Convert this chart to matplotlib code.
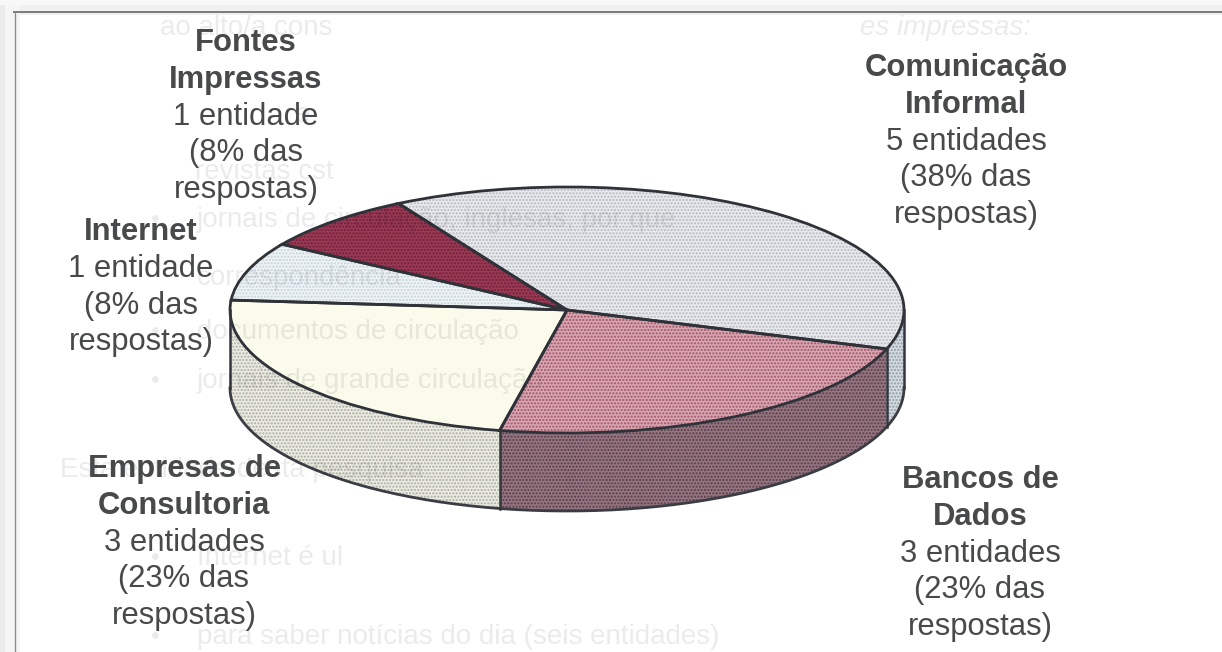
import numpy as np
import matplotlib
matplotlib.use("Agg")
import matplotlib.pyplot as plt

plt.rcParams['font.family'] = ['Liberation Sans', 'DejaVu Sans']

# entidades, in clockwise order from the top
categories = ['Comunicação Informal', 'Bancos de Dados', 'Empresas de Consultoria', 'Internet', 'Fontes Impressas']
values = [5, 3, 3, 1, 1]

top_colors = ['#e8e9ec', '#d8a5b0', '#fbfbec', '#eef3f5', '#9a3a55']
top_dots = ['#b4b8c0', '#9c5468', '#fbfbec', '#c6d2da', '#6f2039']
side_colors = ['#d5dce0', '#967680', '#ecece2', '#ffffff', '#ffffff']
side_dots = ['#808c98', '#4f3642', '#a0a39a', '#ffffff', '#ffffff']

label_lines = [
    ['Fontes', 'Impressas', '1 entidade', '(8% das', 'respostas)'],
    ['Comunicação', 'Informal', '5 entidades', '(38% das', 'respostas)'],
    ['Internet', '1 entidade', '(8% das', 'respostas)'],
    ['Empresas de', 'Consultoria', '3 entidades', '(23% das', 'respostas)'],
    ['Bancos de', 'Dados', '3 entidades', '(23% das', 'respostas)'],
]
label_bold = [2, 2, 1, 2, 2]
label_x = [246, 966, 141, 184, 980]
label_y = [43, 68, 232, 469, 480]

# show-through from the other side of the scanned page
ghost_text = ['ao alto/a cons', 'es impressas:', 'e', 'revistas cst', 'jornais de circulação, inglesas, por que',
              'correspondência', 'documentos de circulação', 'jornais de grande circulação',
              'Esta entidade desta pesquisa', 'Internet é ul', 'para saber notícias do dia (seis entidades)']
ghost_x = [160, 860, 295, 195, 197, 197, 197, 197, 60, 197, 197]
ghost_y = [28, 28, 115, 172, 220, 278, 332, 381, 470, 558, 637]
ghost_bullet_y = [220, 332, 381, 558, 637]

W, H = 1222, 652
cx, cy, rx, ry, depth = 567, 310, 337, 123, 78

fig = plt.figure(figsize=(W / 100, H / 100), dpi=100)
ax = fig.add_axes([0, 0, 1, 1])
start = 120
dots = '.....'

# side wall, built up from pies stacked under the top one
for d in np.arange(depth, 0, -1) / ry:
    ax.pie(values, colors=side_colors, startangle=start, counterclock=False, center=(0, -d),
           wedgeprops={'linewidth': 0})
    for w, c in zip(ax.patches[-5:], side_dots):
        w.set_edgecolor(c)
        w.set_hatch(dots)

ax.pie(values, colors=top_colors, startangle=start, counterclock=False, wedgeprops={'linewidth': 0})
for w, c in zip(ax.patches[-5:], top_dots):
    w.set_edgecolor(c)
    w.set_hatch(dots)
ax.pie(values, colors=['none'] * 5, startangle=start, counterclock=False,
       wedgeprops={'linewidth': 2, 'edgecolor': '#2f3238'})

# rim and wall edges
t = np.radians(np.linspace(180, 360, 200))
ax.plot(np.cos(t), np.sin(t) - depth / ry, color='#3a3d44', lw=2)
ends = start - np.cumsum(values) / sum(values) * 360
for a in [180, 0, ends[0], ends[1]]:
    x = np.cos(np.radians(a))
    y = np.sin(np.radians(a))
    ax.plot([x, x], [y, y - depth / ry], color='#33363c', lw=1.8)

ax.set_aspect('auto')
ax.set_xlim(-cx / rx, (W - cx) / rx)
ax.set_ylim(-(H - cy) / ry, cy / ry)
ax.axis('off')

# overlay in pixels for the scan marks and the text
ov = fig.add_axes([0, 0, 1, 1])
ov.set_xlim(0, W)
ov.set_ylim(H, 0)
ov.axis('off')
ov.patch.set_alpha(0)

ov.axvspan(0, 5, color='#ececec', lw=0)
ov.axvspan(5, 20, color='#f6f6f6', lw=0)
ov.axhspan(0, 5, color='#f8f8f8', lw=0)
ov.axhspan(5, 15, xmin=20 / W, color='#f0f0f0', lw=0)
ov.plot([14, W], [12, 12], color='#777b7b', lw=1.4)
ov.plot([15, 15], [12, H], color='#8a8d8d', lw=1)

for s, x, y in zip(ghost_text, ghost_x, ghost_y):
    ov.text(x, y, s, fontsize=20, color='#000000', alpha=0.08, va='center', ha='left',
            style='italic' if s == 'es impressas:' else 'normal')
for y in ghost_bullet_y:
    ov.text(155, y, '•', fontsize=18, color='#000000', alpha=0.08, va='center', ha='center')

for lines, n, x, y0 in zip(label_lines, label_bold, label_x, label_y):
    for i, s in enumerate(lines):
        ov.text(x, y0 + i * 36.8, s, fontsize=22.3, color='#48494b', ha='center', va='center',
                fontweight='bold' if i < n else 'normal')

fig.savefig('out.png', dpi=100)
